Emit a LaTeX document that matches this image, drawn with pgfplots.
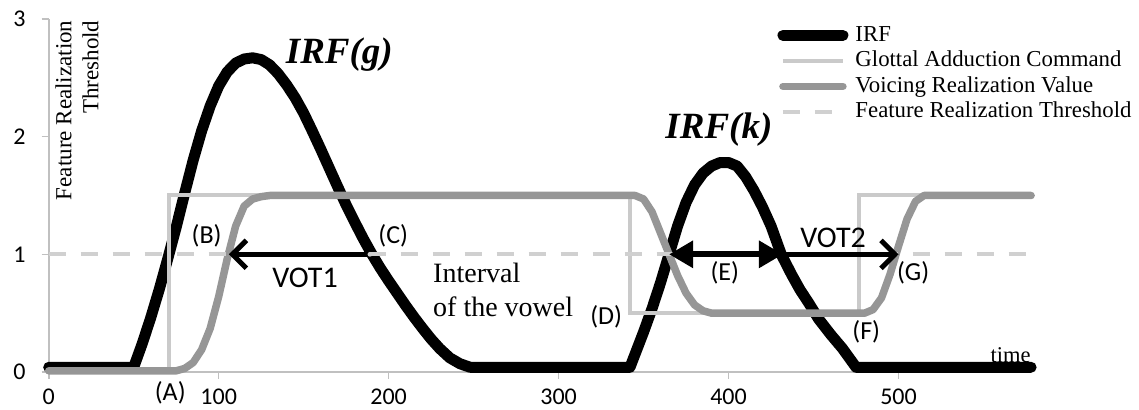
\documentclass[border=0pt]{standalone}
\usepackage{fontspec}
\setmainfont{Liberation Serif}
\newfontfamily\calibri{Carlito}
\usepackage{pgfplots}
\pgfplotsset{compat=1.18}
\usetikzlibrary{arrows.meta}
\definecolor{axisgray}{HTML}{C0C0C0}
\definecolor{lightg}{HTML}{CACACA}
\definecolor{dashg}{HTML}{D0D0D0}
\definecolor{midg}{HTML}{969696}

\pgfplotstableread{
x y
0 0.04
50 0.04
55 0.24
60 0.46
65 0.70
70 0.96
75 1.23
80 1.52
85 1.80
90 2.05
95 2.26
100 2.43
105 2.55
110 2.625
115 2.66
120 2.67
125 2.655
130 2.61
135 2.535
140 2.44
145 2.33
150 2.20
155 2.05
160 1.895
165 1.735
170 1.575
175 1.42
180 1.275
185 1.135
190 1.005
195 0.885
200 0.775
205 0.67
210 0.565
215 0.465
220 0.37
225 0.28
230 0.20
236 0.12
242 0.07
248 0.04
342 0.04
346 0.19
350 0.34
355 0.54
360 0.76
365 1.00
370 1.24
375 1.44
380 1.59
385 1.69
390 1.75
395 1.78
400 1.78
405 1.75
410 1.66
415 1.54
420 1.40
425 1.24
431 1.00
437 0.83
442 0.70
447 0.59
453 0.45
460 0.32
467 0.20
475 0.04
578 0.04
}\irf

\pgfplotstableread{
x y
0 0.01
71 0.01
71 1.5
342 1.5
342 0.5
477 0.5
477 1.5
578 1.5
}\glottal

\pgfplotstableread{
x y
0 0.01
75 0.01
80 0.03
85 0.08
90 0.19
95 0.37
100 0.64
105 0.96
110 1.24
115 1.41
120 1.47
125 1.49
130 1.5
345 1.5
350 1.47
355 1.36
360 1.18
365 1.0
370 0.82
375 0.67
380 0.57
385 0.52
390 0.5
480 0.5
485 0.53
490 0.63
495 0.83
500 1.07
505 1.30
510 1.45
515 1.5
578 1.5
}\voicing

\pgfplotstableread{
x y
0 1
578 1
}\thresh

\begin{document}
\begin{tikzpicture}
\begin{axis}[
  scale only axis, width=491.2pt, height=176.5pt,
  xmin=0, xmax=578, ymin=0, ymax=3,
  axis x line*=bottom, axis y line*=left,
  axis line style={axisgray, line width=0.8pt},
  xtick={0,100,...,500}, ytick={0,1,2,3},
  tick style={axisgray, line width=0.8pt},
  tick align=outside, major tick length=3.5pt,
  /pgf/number format/assume math mode=true,
  ticklabel style={font=\calibri\fontsize{12}{14}\selectfont, black},
  xticklabel style={yshift=-1.5pt},
  yticklabel style={xshift=-4.5pt},
  clip=false,
  legend style={at={(rel axis cs:0.7414,0.9887)}, anchor=north west, draw=none, fill=none,
    font=\fontsize{11.4}{13}\selectfont, row sep=0.75pt, inner sep=0pt,
    nodes={inner sep=0pt, text height=9pt, text depth=3pt},
    /tikz/every odd column/.append style={column sep=3.5pt}},
  legend cell align=left,
  legend image code/.code={\draw[#1] (0pt,0pt) -- (30pt,0pt);},
]
\addplot[black, line width=5.5pt, line cap=round, line join=round] table {\irf};
\addlegendentry{IRF}
\addplot[lightg, line width=2pt, line join=miter] table {\glottal};
\addlegendentry{Glottal Adduction Command}
\addplot[midg, line width=3.75pt, line cap=round, line join=round] table {\voicing};
\addlegendentry{Voicing Realization Value}
\addplot[dashg, line width=2pt, dash pattern=on 8.5pt off 7.5pt] table {\thresh};
\addlegendentry{Feature Realization Threshold}

% arrows
\draw[line width=2.5pt, -{Straight Barb[length=7pt,width=14pt]}] (axis cs:189,1.0) -- (axis cs:106,1.0);
\fill[dashg] (axis cs:189,1.0) circle (1.2pt);
\draw[line width=3pt, {Triangle[length=12pt,width=13pt]}-{Triangle[length=12pt,width=13pt]}] (axis cs:365,1.0) -- (axis cs:432,1.0);
\draw[line width=2.5pt, -{Straight Barb[length=7pt,width=14pt]}] (axis cs:432,1.0) -- (axis cs:500,1.0);

% labels
\node[font=\calibri\fontsize{13}{13}\selectfont] at (axis cs:71.5,-0.18) {(A)};
\node[font=\calibri\fontsize{13}{13}\selectfont] at (axis cs:92.9,1.16) {(B)};
\node[font=\calibri\fontsize{13}{13}\selectfont] at (axis cs:202.7,1.16) {(C)};
\node[font=\calibri\fontsize{13}{13}\selectfont] at (axis cs:328,0.47) {(D)};
\node[font=\calibri\fontsize{13}{13}\selectfont] at (axis cs:397.8,0.84) {(E)};
\node[font=\calibri\fontsize{13}{13}\selectfont] at (axis cs:481,0.34) {(F)};
\node[font=\calibri\fontsize{13}{13}\selectfont] at (axis cs:508.6,0.84) {(G)};
\node[font=\calibri\fontsize{15}{15}\selectfont] at (axis cs:150.8,0.80) {VOT1};
\node[font=\calibri\fontsize{15}{15}\selectfont] at (axis cs:461.5,1.14) {VOT2};
\node[anchor=west, align=left, inner sep=0pt, font=\fontsize{14}{17}\selectfont] at (axis cs:226,0.70) {Interval\\of the vowel};
\node[font=\fontsize{11.25}{12}\selectfont] at (axis cs:566,0.145) {time};
\node[font=\bfseries\itshape\fontsize{18.5}{20}\selectfont] at (axis cs:171,2.70) {IRF(g)};
\node[font=\bfseries\itshape\fontsize{18.5}{20}\selectfont] at (axis cs:394.3,2.06) {IRF(k)};
\node[rotate=90, anchor=north east, align=right, inner sep=0pt, font=\fontsize{11.5}{13.5}\selectfont] at (axis cs:3.7,2.99) {Feature Realization\\Threshold};
\end{axis}
\pgfresetboundingbox
\useasboundingbox (-24.35pt,-19pt) rectangle (545.15pt,186pt);
\end{tikzpicture}
\end{document}
